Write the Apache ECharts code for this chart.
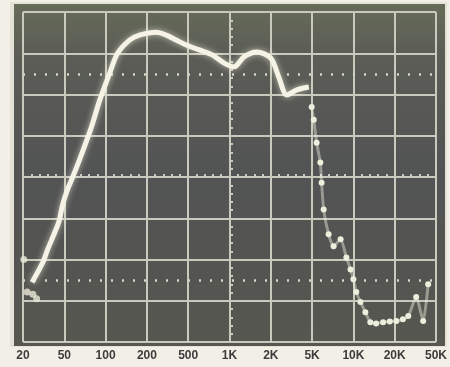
<!DOCTYPE html>
<html><head><meta charset="utf-8">
<script src="https://cdn.jsdelivr.net/npm/echarts@6/dist/echarts.min.js"></script>
<style>html,body{margin:0;padding:0;background:#f2f0e6;}#c{width:450px;height:367px;}</style>
</head><body><div id="c"></div>
<script>
// Tick labels for the 10 graticule divisions (1-2-5 frequency steps)
var tickLabels = ['20','50','100','200','500','1K','2K','5K','10K','20K','50K'];
// Main trace: x in graticule divisions (0 = 20 Hz), y in vertical divisions (0 = bottom)
var traceX = [0.22,0.48,0.60,0.77,0.87,0.96,1.08,1.18,1.37,1.66,1.86,2.10,2.29,2.58,2.82,3.23,3.47,3.71,3.95,4.27,4.58,4.87,5.11,5.35,5.66,6.00,6.19,6.39,6.63,6.92];
var traceY = [1.45,1.93,2.25,2.66,2.92,3.33,3.70,3.94,4.42,5.22,5.87,6.52,7.00,7.32,7.44,7.51,7.44,7.32,7.20,7.08,6.96,6.76,6.67,6.91,7.03,6.88,6.43,5.99,6.11,6.18];
// Roll-off above 5K (broken trace blobs)
var dropX = [6.99,7.04,7.11,7.20,7.23,7.28,7.40,7.52,7.69,7.83,7.93,8.00,8.07,8.17,8.29,8.41,8.55,8.72,8.88,9.04,9.20,9.33,9.52,9.69,9.81];
var dropY = [5.70,5.39,4.83,4.35,3.86,3.21,2.61,2.32,2.49,2.05,1.76,1.52,1.21,0.97,0.72,0.48,0.45,0.48,0.50,0.51,0.55,0.63,1.09,0.51,1.40];
// Stray blobs at low-frequency start
var startX = [0.02,0.10,0.24,0.33];
var startY = [2.00,1.21,1.16,1.05];

var zip = function(a,b){return a.map(function(v,i){return [v,b[i]];});};
var gridCol = '#c9c9bd';
var chart = echarts.init(document.getElementById('c'));
chart.setOption({
  backgroundColor: '#f2f0e6',
  animation: false,
  graphic: {
    z: -10,
    elements: [
      {type:'rect', shape:{x:10,y:2,width:437,height:345}, style:{fill:'#e4e2d6'}},
      {type:'rect', shape:{x:14,y:4,width:431,height:342},
       style:{fill:{type:'linear',x:0,y:0,x2:0,y2:1,colorStops:[
         {offset:0,color:'#666b58'},{offset:0.15,color:'#5b5d56'},{offset:0.5,color:'#525354'},{offset:1,color:'#56574f'}]}}}
    ]
  },
  grid: {left:23, right:12, top:12, bottom:25, show:true, backgroundColor:'transparent', borderColor:gridCol, borderWidth:2},
  xAxis: [{
    type:'value', min:0, max:10, interval:1,
    axisLine:{show:false}, axisTick:{show:false},
    axisLabel:{show:true, margin:8, color:'#3c3c3c', fontSize:12, fontWeight:'bold', fontFamily:'Liberation Sans',
      formatter:function(v){return tickLabels[Math.round(v)];}},
    splitLine:{show:true, lineStyle:{color:gridCol, width:2}}
  },{
    type:'value', min:0, max:10, interval:1, position:'bottom', offset:-165,
    axisLine:{show:true, lineStyle:{color:gridCol, width:2}},
    axisTick:{show:true, inside:true, length:3, lineStyle:{color:gridCol, width:2}},
    minorTick:{show:true, splitNumber:5, length:3, lineStyle:{color:gridCol, width:2}},
    axisLabel:{show:false}, splitLine:{show:false}
  }],
  yAxis: [{
    type:'value', min:0, max:8, interval:1,
    axisLine:{show:false}, axisTick:{show:false}, axisLabel:{show:false},
    splitLine:{show:true, lineStyle:{color:gridCol, width:2}}
  },{
    type:'value', min:0, max:8, interval:1, position:'left', offset:-207,
    axisLine:{show:true, lineStyle:{color:gridCol, width:2}},
    axisTick:{show:true, inside:true, length:3, lineStyle:{color:gridCol, width:2}},
    minorTick:{show:true, splitNumber:5, length:3, lineStyle:{color:gridCol, width:2}},
    axisLabel:{show:false}, splitLine:{show:false}
  }],
  series: [{
    type:'line', data: zip(traceX, traceY), smooth:0.3, symbol:'none',
    lineStyle:{color:'#f4f3e6', width:5, shadowColor:'rgba(255,255,235,0.6)', shadowBlur:6},
    markLine:{silent:true, symbol:'none', label:{show:false},
      lineStyle:{color:'#d6d6c8', width:2.5, type:[2,9]},
      data:[{yAxis:6.5},{yAxis:1.5}]},
    z:5
  },{
    type:'line', data: zip(dropX, dropY), smooth:0.2, symbol:'circle', symbolSize:6,
    itemStyle:{color:'#eeeedd'},
    lineStyle:{color:'rgba(240,240,225,0.45)', width:3},
    z:5
  },{
    type:'scatter', data: zip(startX, startY), symbolSize:7,
    itemStyle:{color:'#e8e8d8'}, z:5
  }]
});
</script></body></html>
